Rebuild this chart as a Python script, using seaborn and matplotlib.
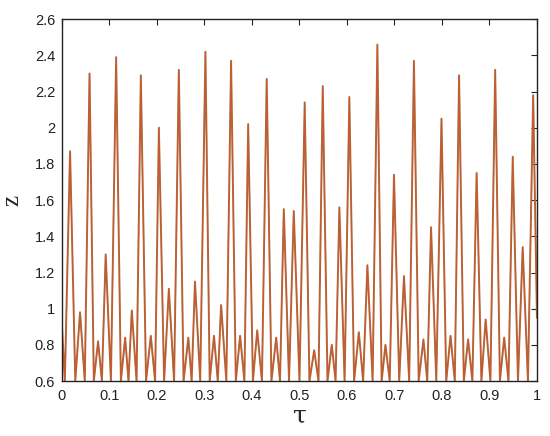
import numpy as np
import pandas as pd
import seaborn as sns
import matplotlib
matplotlib.use('Agg')
import matplotlib.pyplot as plt
from matplotlib.ticker import FormatStrFormatter

# peaks of the oscillation (tau, z)
peak_tau = [0.017, 0.038, 0.058, 0.076, 0.092, 0.114, 0.133, 0.147, 0.166, 0.187,
            0.204, 0.225, 0.246, 0.266, 0.280, 0.302, 0.320, 0.335, 0.356, 0.375,
            0.392, 0.411, 0.431, 0.451, 0.467, 0.488, 0.511, 0.531, 0.549, 0.568,
            0.584, 0.605, 0.625, 0.643, 0.664, 0.681, 0.699, 0.720, 0.741, 0.761,
            0.777, 0.799, 0.818, 0.836, 0.855, 0.873, 0.892, 0.912, 0.931, 0.949,
            0.970, 0.992]
peak_z = [1.87, 0.98, 2.30, 0.82, 1.30, 2.39, 0.84, 0.99, 2.29, 0.85,
          2.00, 1.11, 2.32, 0.84, 1.15, 2.42, 0.85, 1.02, 2.37, 0.85,
          2.02, 0.88, 2.27, 0.84, 1.55, 1.54, 2.14, 0.77, 2.23, 0.80,
          1.56, 2.17, 0.87, 1.24, 2.46, 0.80, 1.74, 1.18, 2.37, 0.83,
          1.45, 2.05, 0.85, 2.29, 0.83, 1.75, 0.94, 2.32, 0.84, 1.84,
          1.34, 2.18]

# troughs (one before each peak)
trough_tau = [0.006, 0.028, 0.048, 0.067, 0.084, 0.103, 0.124, 0.140, 0.157, 0.177,
              0.196, 0.215, 0.236, 0.256, 0.273, 0.291, 0.311, 0.328, 0.346, 0.366,
              0.384, 0.402, 0.421, 0.441, 0.459, 0.478, 0.500, 0.521, 0.540, 0.559,
              0.576, 0.595, 0.615, 0.634, 0.654, 0.673, 0.690, 0.710, 0.731, 0.751,
              0.769, 0.788, 0.809, 0.827, 0.846, 0.864, 0.883, 0.902, 0.922, 0.940,
              0.960, 0.981]
trough_z = 0.6

start_point = (0.0, 0.9)
end_point = (1.0, 0.95)

# build the polyline: start, trough, peak, trough, peak, ..., end
tau = [start_point[0]]
z = [start_point[1]]
for tt, pt, pz in zip(trough_tau, peak_tau, peak_z):
    tau += [tt, pt]
    z += [trough_z, pz]
tau.append(end_point[0])
z.append(end_point[1])
df = pd.DataFrame({'tau': tau, 'z': z})

sns.set_style('white')
plt.rcParams['font.family'] = ['Liberation Sans', 'DejaVu Sans']

fig = plt.figure(figsize=(5.5, 4.36), dpi=100)
ax = fig.add_axes([0.1127, 0.126, 0.8636, 0.830])

# two nearly overlapping trajectories: brown underneath, red on top
sns.lineplot(data=df, x='tau', y='z', sort=False, ax=ax, color='#a87440', linewidth=1.4)
sns.lineplot(data=df, x='tau', y='z', sort=False, ax=ax, color='#e83c24', linewidth=0.9, alpha=0.45)

ax.set_xlim(0, 1)
ax.set_ylim(0.6, 2.6)
ax.set_xticks(np.arange(0, 1.01, 0.1))
ax.set_yticks(np.arange(0.6, 2.61, 0.2))
ax.xaxis.set_major_formatter(FormatStrFormatter('%g'))
ax.yaxis.set_major_formatter(FormatStrFormatter('%g'))
ax.tick_params(direction='in', top=True, right=True, length=4, width=0.8,
               labelsize=10.5, colors='#222222', pad=5)
ax.tick_params(axis='x', pad=6)

for side in ['left', 'right', 'top', 'bottom']:
    ax.spines[side].set_color('#222222')
    ax.spines[side].set_linewidth(1.0)

ax.set_xlabel('τ', fontsize=18, family='DejaVu Serif', labelpad=1)
ax.set_ylabel('z', fontsize=18, family='Liberation Serif', labelpad=8)

plt.savefig('out.png', dpi=100)
